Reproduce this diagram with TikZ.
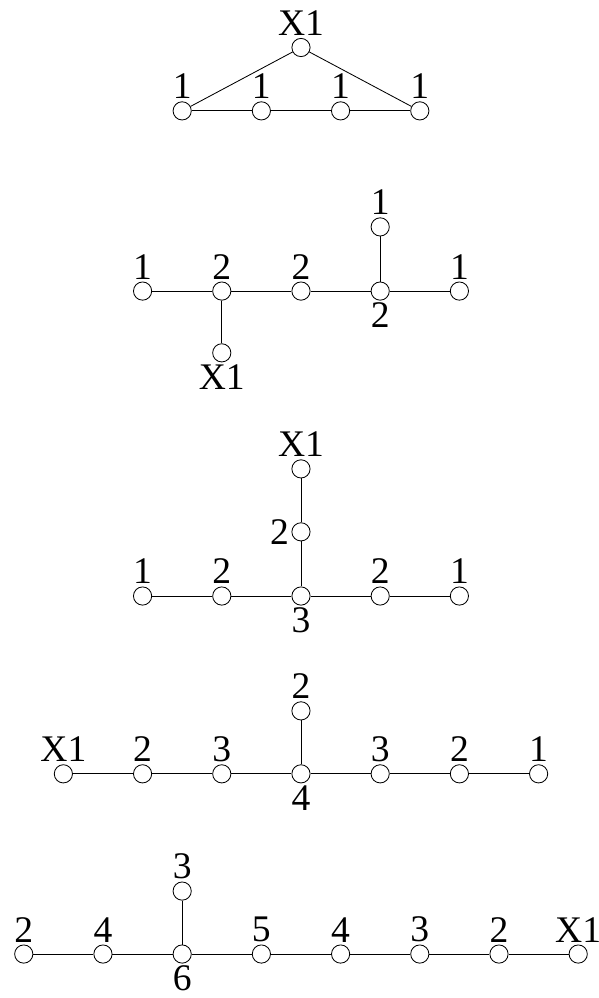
\documentclass[tikz,border=0pt]{standalone}
\usepackage{fontspec}
\setmainfont{Liberation Serif}
\tikzset{
  vtx/.style={circle, draw, fill=white, minimum size=0.46cm, inner sep=0pt},
  every label/.style={font=\fontsize{27}{27}\selectfont, inner sep=1.5pt},
  edge/.style={line width=0.6pt}
}
\begin{document}
\begin{tikzpicture}[line width=0.6pt, label distance=0pt]

  \useasboundingbox (0,0) rectangle (15.10, 25.20);

  %% ---- FIRST ----
  \node[vtx, label={above:X1}] (a1) at (7.6, 24.0) {};
  \node[vtx, label={above:1}] (a2) at (4.6, 22.4) {};
  \node[vtx, label={above:1}] (a3) at (6.6, 22.4) {};
  \node[vtx, label={above:1}] (a4) at (8.6, 22.4) {};
  \node[vtx, label={above:1}] (a5) at (10.6, 22.4) {};

  \draw[edge] (a2) -- (a3) -- (a4) -- (a5);
  \draw[edge] (a2) -- (a1) -- (a5);

  %% ---- SECOND ----
  \node[vtx, label={above:1}] (b1) at (3.6, 17.85) {};
  \node[vtx, label={above:2}] (b2) at (5.6, 17.85) {};
  \node[vtx, label={above:2}] (b3) at (7.6, 17.85) {};
  \node[vtx, label={below:2}] (b4) at (9.6, 17.85) {};
  \node[vtx, label={above:1}] (b5) at (11.6, 17.85) {};
  \node[vtx, label={above:1}] (b6) at (9.6, 19.47) {};
  \node[vtx, label={below:X1}] (b7) at (5.6, 16.29) {};

  \draw[edge] (b1) -- (b2) -- (b3) -- (b4) -- (b5);
  \draw[edge] (b4) -- (b6);
  \draw[edge] (b2) -- (b7);

  %% ---- THIRD ----
  \node[vtx, label={above:1}] (c1) at (3.6, 10.15) {};
  \node[vtx, label={above:2}] (c2) at (5.6, 10.15) {};
  \node[vtx, label={below:3}] (c3) at (7.6, 10.15) {};
  \node[vtx, label={above:2}] (c4) at (9.6, 10.15) {};
  \node[vtx, label={above:1}] (c5) at (11.6, 10.15) {};
  \node[vtx, label={left:2}] (c6) at (7.6, 11.77) {};
  \node[vtx, label={above:X1}] (c7) at (7.6, 13.36) {};

  \draw[edge] (c1) -- (c2) -- (c3) -- (c4) -- (c5);
  \draw[edge] (c3) -- (c6) -- (c7);

  %% ---- FOURTH ----
  \node[vtx, label={above:X1}] (d1) at (1.6, 5.66) {};
  \node[vtx, label={above:2}] (d2) at (3.6, 5.66) {};
  \node[vtx, label={above:3}] (d3) at (5.6, 5.66) {};
  \node[vtx, label={below:4}] (d4) at (7.6, 5.66) {};
  \node[vtx, label={above:3}] (d5) at (9.6, 5.66) {};
  \node[vtx, label={above:2}] (d6) at (11.6, 5.66) {};
  \node[vtx, label={above:1}] (d7) at (13.6, 5.66) {};
  \node[vtx, label={above:2}] (d8) at (7.6, 7.25) {};

  \draw[edge] (d1) -- (d2) -- (d3) -- (d4) -- (d5) -- (d6) -- (d7);
  \draw[edge] (d4) -- (d8);

  %% ---- FIFTH ----
  \node[vtx, label={above:2}] (e1) at (0.6, 1.11) {};
  \node[vtx, label={above:4}] (e2) at (2.6, 1.11) {};
  \node[vtx, label={below:6}] (e3) at (4.6, 1.11) {};
  \node[vtx, label={above:5}] (e4) at (6.6, 1.11) {};
  \node[vtx, label={above:4}] (e5) at (8.6, 1.11) {};
  \node[vtx, label={above:3}] (e6) at (10.6, 1.11) {};
  \node[vtx, label={above:2}] (e7) at (12.6, 1.11) {};
  \node[vtx, label={above:X1}] (e8) at (14.6, 1.11) {};
  \node[vtx, label={above:3}] (e9) at (4.6, 2.70) {};

  \draw[edge] (e1) -- (e2) -- (e3) -- (e4) -- (e5) -- (e6) -- (e7) -- (e8);
  \draw[edge] (e3) -- (e9);

\end{tikzpicture}
\end{document}
